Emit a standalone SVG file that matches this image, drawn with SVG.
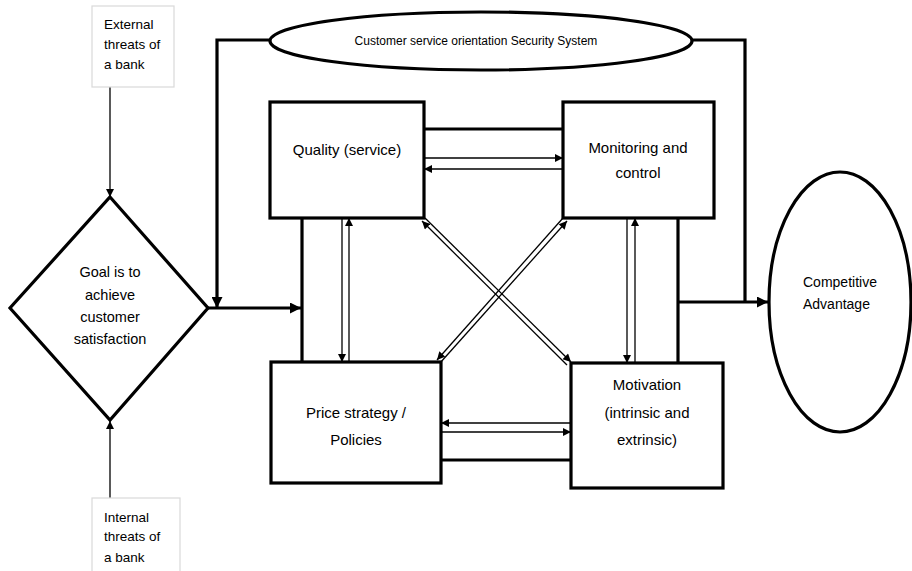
<svg xmlns="http://www.w3.org/2000/svg" width="912" height="571" viewBox="0 0 912 571">
<style>
  .thick { fill: none; stroke: #000; stroke-width: 3.2; }
  .thin { fill: none; stroke: #000; stroke-width: 1.3; }
  .box { fill: #fff; stroke: #000; stroke-width: 3.2; }
  .note { fill: #fff; stroke: #d9d9d9; stroke-width: 1.2; }
  text { font-family: "Liberation Sans", Arial, sans-serif; fill: #000; }
  .lbl { font-size: 15px; text-anchor: middle; }
  .sm { font-size: 13.5px; }
</style>
<defs>
  <marker id="ahB" viewBox="0 0 10 10" refX="10" refY="5" markerWidth="11" markerHeight="11" markerUnits="userSpaceOnUse" orient="auto">
    <path d="M0,0 L10,5 L0,10 z" fill="#000"/>
  </marker>
  <marker id="ahS" viewBox="0 0 10 10" refX="10" refY="5" markerWidth="9" markerHeight="8" markerUnits="userSpaceOnUse" orient="auto">
    <path d="M0,0 L10,5 L0,10 z" fill="#000"/>
  </marker>
</defs>

<g id="connectors">
  <line class="thin" x1="110" y1="87" x2="110" y2="197" marker-end="url(#ahS)"/>
  <line class="thin" x1="110" y1="498" x2="110" y2="421" marker-end="url(#ahS)"/>
  <polyline class="thick" points="270,40 217,40 217,308" marker-end="url(#ahB)"/>
  <polyline class="thick" points="692,40 745,40 745,302"/>
  <line class="thick" x1="208" y1="308" x2="301" y2="308" marker-end="url(#ahB)"/>
  <line class="thick" x1="424" y1="129" x2="563" y2="129"/>
  <line class="thick" x1="441" y1="460" x2="571" y2="460"/>
  <line class="thick" x1="302" y1="218" x2="302" y2="362"/>
  <line class="thick" x1="678" y1="218" x2="678" y2="363"/>
  <line class="thick" x1="678" y1="302" x2="768" y2="302" marker-end="url(#ahB)"/>
  <line class="thin" x1="424" y1="158" x2="563" y2="158" marker-end="url(#ahS)"/>
  <line class="thin" x1="563" y1="169" x2="424" y2="169" marker-end="url(#ahS)"/>
  <line class="thin" x1="571" y1="423" x2="441" y2="423" marker-end="url(#ahS)"/>
  <line class="thin" x1="441" y1="432" x2="571" y2="432" marker-end="url(#ahS)"/>
  <line class="thin" x1="342" y1="218" x2="342" y2="362" marker-end="url(#ahS)"/>
  <line class="thin" x1="349" y1="362" x2="349" y2="218" marker-end="url(#ahS)"/>
  <line class="thin" x1="627" y1="218" x2="627" y2="363" marker-end="url(#ahS)"/>
  <line class="thin" x1="635" y1="363" x2="635" y2="218" marker-end="url(#ahS)"/>
  <line class="thin" x1="567" y1="365" x2="422" y2="221" marker-end="url(#ahS)"/>
  <line class="thin" x1="425" y1="218" x2="571" y2="362" marker-end="url(#ahS)"/>
  <line class="thin" x1="563" y1="218" x2="437" y2="360" marker-end="url(#ahS)"/>
  <line class="thin" x1="440" y1="363" x2="567" y2="221" marker-end="url(#ahS)"/>
</g>

<g id="external-threats">
  <rect class="note" x="92" y="6" width="82" height="81"/>
  <text class="sm" x="104" y="29">External</text>
  <text class="sm" x="104" y="49">threats of</text>
  <text class="sm" x="104" y="69">a bank</text>
</g>

<g id="internal-threats">
  <rect class="note" x="92" y="498" width="88" height="82"/>
  <text class="sm" x="104" y="522">Internal</text>
  <text class="sm" x="104" y="541">threats of</text>
  <text class="sm" x="104" y="562">a bank</text>
</g>

<g id="goal">
  <polygon class="box" points="110,197 208,308 110,420 10,308"/>
  <text class="lbl" style="font-size:14.5px" x="110" y="277">Goal is to</text>
  <text class="lbl" style="font-size:14.5px" x="110" y="300">achieve</text>
  <text class="lbl" style="font-size:14.5px" x="110" y="322">customer</text>
  <text class="lbl" style="font-size:14.5px" x="110" y="344">satisfaction</text>
</g>

<g id="security-system">
  <ellipse class="box" cx="481" cy="41" rx="211" ry="29"/>
  <text class="lbl" style="font-size:12px" x="476" y="45">Customer service orientation Security System</text>
</g>

<g id="quality">
  <rect class="box" x="270" y="102" width="154" height="116"/>
  <text class="lbl" x="347" y="155">Quality (service)</text>
</g>

<g id="monitoring">
  <rect class="box" x="563" y="102" width="151" height="116"/>
  <text class="lbl" x="638" y="153">Monitoring and</text>
  <text class="lbl" x="638" y="178">control</text>
</g>

<g id="price">
  <rect class="box" x="271" y="362" width="170" height="121"/>
  <text class="lbl" x="356" y="418">Price strategy /</text>
  <text class="lbl" x="356" y="445">Policies</text>
</g>

<g id="motivation">
  <rect class="box" x="571" y="363" width="152" height="125"/>
  <text class="lbl" x="647" y="390">Motivation</text>
  <text class="lbl" x="647" y="418">(intrinsic and</text>
  <text class="lbl" x="647" y="445">extrinsic)</text>
</g>

<g id="competitive-advantage">
  <ellipse class="box" cx="840" cy="302" rx="71" ry="130"/>
  <text class="sm" style="font-size:14px" x="803" y="287">Competitive</text>
  <text class="sm" style="font-size:14px" x="803" y="309">Advantage</text>
</g>
</svg>
